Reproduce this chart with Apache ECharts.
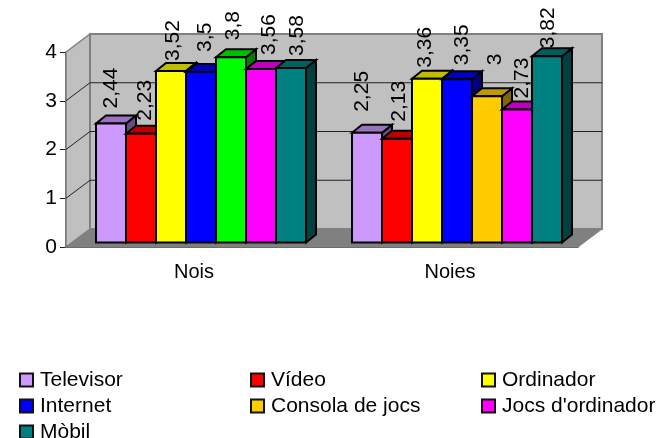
<!DOCTYPE html>
<html>
<head>
	<meta charset="utf-8" />
	<title>Nois i noies</title>
	<script src="https://cdn.jsdelivr.net/npm/echarts@6/dist/echarts.min.js"></script>
	<style>
		html, body { margin: 0; padding: 0; background: #fff; }
		#container { width: 661px; height: 438px; }
	</style>
</head>
<body>
<div id="container"></div>
<script>
	var categories = ['Nois', 'Noies'];
	var yTicks = [0, 1, 2, 3, 4];

	var televisor = [2.44, 2.25];
	var video = [2.23, 2.13];
	var ordinador = [3.52, 3.36];
	var internet = [3.5, 3.35];
	var consola = [3.8, 3];
	var jocs = [3.56, 2.73];
	var mobil = [3.58, 3.82];

	var seriesNames = ['Televisor', 'Vídeo', 'Ordinador', 'Internet', 'Consola de jocs', "Jocs d'ordinador", 'Mòbil'];
	var seriesValues = [televisor, video, ordinador, internet, consola, jocs, mobil];
	// the green in Nois is not the legend orange, the source chart had it so
	var seriesColors = ['#cc99ff', '#ff0000', '#ffff00', '#0000ff', '#ffcc00', '#ff00ff', '#008080'];
	var pointColors = { '4,0': '#00ff00' };

	// 3D look, in pixels
	var wallDx = 24, wallDy = -18;
	var barDx = 10, barDy = -8;
	var floorDx = 0, floorDy = -4.5;
	var barWidth = 30, groupInset = 30;

	// the labels in the source sit unevenly: [dx from bar centre, gap above bar front]
	var labelNudge = [
		[[0, 15], [-5, 21]],
		[[4, 13], [2, 17]],
		[[2, 10], [-2, 11]],
		[[4, 20], [5, 14]],
		[[2, 17], [8, 31]],
		[[8, 14], [5, 11]],
		[[6, 12], [1, 8]]
	];

	function shade(hex, k) {
		var n = parseInt(hex.slice(1), 16);
		var r = Math.round((n >> 16 & 255) * k);
		var g = Math.round((n >> 8 & 255) * k);
		var b = Math.round((n & 255) * k);
		return 'rgb(' + r + ',' + g + ',' + b + ')';
	}

	function poly(points, fill, stroke, lineWidth) {
		return {
			type: 'polygon',
			shape: { points: points },
			style: { fill: fill, stroke: stroke, lineWidth: lineWidth }
		};
	}

	function renderWalls(params, api) {
		var c = params.coordSys;
		var x0 = c.x, x1 = c.x + c.width, y0 = c.y, y1 = c.y + c.height;
		return {
			type: 'group',
			children: [
				poly([[x0, y1], [x0 + wallDx, y1 + wallDy], [x0 + wallDx, y0 + wallDy], [x0, y0]], '#c0c0c0', '#808080', 1.5),
				poly([[x0 + wallDx, y1 + wallDy], [x1 + wallDx, y1 + wallDy], [x1 + wallDx, y0 + wallDy], [x0 + wallDx, y0 + wallDy]], '#c0c0c0', '#808080', 2),
				poly([[x0, y1], [x1, y1], [x1 + wallDx, y1 + wallDy], [x0 + wallDx, y1 + wallDy]], '#808080', '#808080', 1)
			]
		};
	}

	function renderGridLine(params, api) {
		var c = params.coordSys;
		var y = api.coord([0, api.value(1)])[1];
		if (api.value(1) === yTicks[0] || api.value(1) === yTicks[yTicks.length - 1]) {
			return { type: 'group', children: [] };
		}
		return {
			type: 'polyline',
			shape: { points: [[c.x, y], [c.x + wallDx, y + wallDy], [c.x + c.width + wallDx, y + wallDy]] },
			style: { fill: null, stroke: '#222', lineWidth: 1 }
		};
	}

	function makeBarRenderer(seriesIndex) {
		return function (params, api) {
			var cat = api.value(0);
			var value = api.value(1);
			var color = pointColors[seriesIndex + ',' + cat] || seriesColors[seriesIndex];
			var band = api.size([1, 0])[0];
			var centre = api.coord([cat, 0])[0];
			var left = centre - band / 2 + groupInset + seriesIndex * barWidth + floorDx;
			var right = left + barWidth;
			var base = api.coord([cat, 0])[1] + floorDy;
			var top = api.coord([cat, value])[1] + floorDy;
			var nudge = labelNudge[seriesIndex][cat];
			return {
				type: 'group',
				children: [
					poly([[right, base], [right + barDx, base + barDy], [right + barDx, top + barDy], [right, top]], shade(color, 0.5), '#000', 2),
					poly([[left, top], [right, top], [right + barDx, top + barDy], [left + barDx, top + barDy]], shade(color, 0.75), '#000', 2),
					{
						type: 'rect',
						shape: { x: left, y: top, width: barWidth, height: base - top },
						style: { fill: color, stroke: '#000', lineWidth: 2 }
					},
					{
						type: 'text',
						x: left + barWidth / 2 + nudge[0],
						y: top - nudge[1],
						rotation: Math.PI / 2,
						style: {
							text: String(value).replace('.', ','),
							fill: '#000',
							font: '21px "Liberation Sans"',
							align: 'left',
							verticalAlign: 'middle'
						}
					}
				]
			};
		};
	}

	var series = [
		{ type: 'custom', silent: true, renderItem: renderWalls, data: [[0, 0]], encode: { x: 0, y: 1 }, z: 1 },
		{
			type: 'custom', silent: true, renderItem: renderGridLine, z: 2, encode: { x: 0, y: 1 },
			data: yTicks.map(function (t) { return [0, t]; })
		}
	];
	seriesNames.forEach(function (name, i) {
		series.push({
			name: name,
			type: 'custom',
			z: 3 + i,
			renderItem: makeBarRenderer(i),
			itemStyle: { color: seriesColors[i] },
			encode: { x: 0, y: 1 },
			data: seriesValues[i].map(function (v, c) { return [c, v]; })
		});
	});

	function legendColumn(names, left, top) {
		return {
			orient: 'vertical',
			left: left,
			top: top,
			itemWidth: 13,
			itemHeight: 13,
			itemGap: 2,
			padding: 0,
			icon: 'rect',
			selectedMode: false,
			itemStyle: { borderColor: '#111', borderWidth: 2 },
			textStyle: { fontFamily: 'Liberation Sans', fontSize: 21, color: '#000', padding: [0, 0, 0, 2], lineHeight: 24 },
			data: names
		};
	}

	var chart = echarts.init(document.getElementById('container'));
	chart.setOption({
		animation: false,
		backgroundColor: '#fff',
		textStyle: { fontFamily: 'Liberation Sans' },
		grid: { left: 66, right: 83, top: 52, bottom: 191 },
		legend: [
			legendColumn([seriesNames[0], seriesNames[3]], 19, 368),
			// third row hangs off the bottom of the window, it would wrap in one legend
			legendColumn([seriesNames[6]], 19, 420),
			legendColumn([seriesNames[1], seriesNames[4]], 250, 368),
			legendColumn([seriesNames[2], seriesNames[5]], 481, 368)
		],
		xAxis: {
			type: 'category',
			data: categories,
			axisLine: { lineStyle: { color: '#222', width: 1.5 } },
			axisTick: { length: 7, lineStyle: { color: '#222' } },
			axisLabel: { color: '#000', fontSize: 20, margin: 15 }
		},
		yAxis: {
			type: 'value',
			min: 0,
			max: 4,
			interval: 1,
			axisLine: { show: true, lineStyle: { color: '#222', width: 1.5 } },
			axisTick: { show: true, length: 6, lineStyle: { color: '#222' } },
			axisLabel: { color: '#000', fontSize: 21, margin: 9 },
			splitLine: { show: false }
		},
		series: series
	});
</script>
</body>
</html>
